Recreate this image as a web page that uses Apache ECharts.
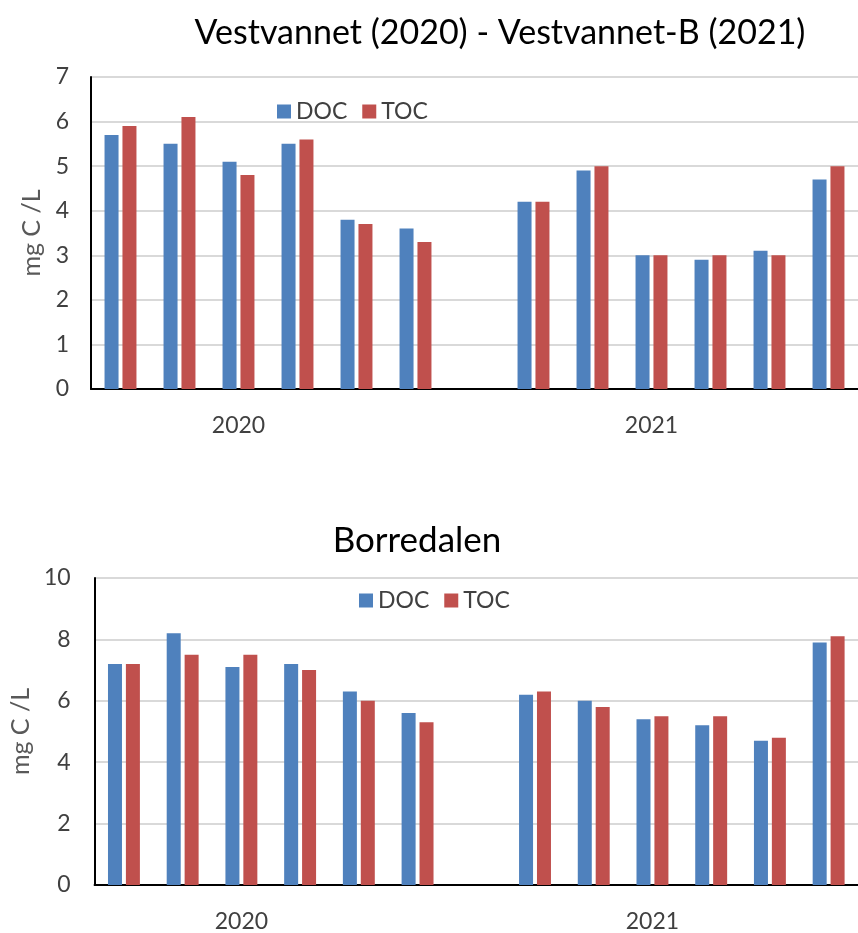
<!DOCTYPE html>
<html>
<head>
<meta charset="utf-8">
<script src="https://cdn.jsdelivr.net/npm/echarts@6/dist/echarts.min.js"></script>
<style>
  html, body { margin: 0; padding: 0; background: #fff; }
  #chart { width: 858px; height: 933px; }
</style>
</head>
<body>
<div id="chart"></div>
<script>
  // prøvetakinger, 6 i 2020, tom plass, 6 i 2021
  const slots = ['2020-1', '2020-2', '2020-3', '2020-4', '2020-5', '2020-6', 'gap',
                 '2021-1', '2021-2', '2021-3', '2021-4', '2021-5', '2021-6'];
  const yearLabels = { 2: '2020', 9: '2021' };

  // Vestvannet (2020) - Vestvannet-B (2021)
  const vestDOC = [5.7, 5.5, 5.1, 5.5, 3.8, 3.6, null, 4.2, 4.9, 3.0, 2.9, 3.1, 4.7];
  const vestTOC = [5.9, 6.1, 4.8, 5.6, 3.7, 3.3, null, 4.2, 5.0, 3.0, 3.0, 3.0, 5.0];

  // Borredalen
  const borrDOC = [7.2, 8.2, 7.1, 7.2, 6.3, 5.6, null, 6.2, 6.0, 5.4, 5.2, 4.7, 7.9];
  const borrTOC = [7.2, 7.5, 7.5, 7.0, 6.0, 5.3, null, 6.3, 5.8, 5.5, 5.5, 4.8, 8.1];

  const vestTicks = { min: 0, max: 7, interval: 1 };
  const borrTicks = { min: 0, max: 10, interval: 2 };

  const FONT = 'Lato';
  const blue = '#4F81BD';
  const red = '#C0504D';

  const chart = echarts.init(document.getElementById('chart'), null, { renderer: 'canvas' });

  const xAxisOf = (gridIndex) => ({
    gridIndex: gridIndex,
    type: 'category',
    data: slots,
    axisLine: { show: true, lineStyle: { color: '#000', width: 2 } },
    axisTick: { show: false },
    splitLine: { show: false },
    axisLabel: {
      interval: 0,
      margin: 25,
      fontFamily: FONT,
      fontSize: 23,
      color: '#404040',
      formatter: (v, i) => yearLabels[i] || ''
    }
  });

  const yAxisOf = (gridIndex, ticks, labelMargin, nameGap) => ({
    gridIndex: gridIndex,
    type: 'value',
    min: ticks.min,
    max: ticks.max,
    interval: ticks.interval,
    name: 'mg C /L',
    nameLocation: 'middle',
    nameRotate: 90,
    nameGap: nameGap,
    nameTextStyle: { fontFamily: FONT, fontSize: 25, color: '#595959' },
    axisLine: { show: true, lineStyle: { color: '#000', width: 2 } },
    axisTick: { show: false },
    splitLine: { show: true, lineStyle: { color: '#d9d9d9', width: 2 } },
    axisLabel: { margin: labelMargin, fontFamily: FONT, fontSize: 23, color: '#404040' }
  });

  const barOf = (name, data, color, idx) => ({
    name: name,
    type: 'bar',
    xAxisIndex: idx,
    yAxisIndex: idx,
    data: data,
    barWidth: 14,
    barGap: '28%',
    itemStyle: { color: color },
    emphasis: { disabled: true }
  });

  const legendOf = (left, top) => ({
    left: left,
    top: top,
    padding: 0,
    orient: 'horizontal',
    itemWidth: 14,
    itemHeight: 14,
    itemGap: 15,
    icon: 'rect',
    data: ['DOC', 'TOC'],
    textStyle: { fontFamily: FONT, fontSize: 23, color: '#404040' }
  });

  chart.setOption({
    backgroundColor: '#fff',
    animation: false,
    title: [
      {
        text: 'Vestvannet (2020) - Vestvannet-B (2021)',
        left: 495, top: 11, textAlign: 'center',
        textStyle: { fontFamily: FONT, fontSize: 34, fontWeight: 'normal', color: '#000' }
      },
      {
        text: 'Borredalen',
        left: 412, top: 518, textAlign: 'center',
        textStyle: { fontFamily: FONT, fontSize: 35, fontWeight: 'normal', color: '#000' }
      }
    ],
    legend: [legendOf(277, 100), legendOf(359, 589)],
    grid: [
      { left: 91, top: 77, width: 776, height: 312 },
      { left: 92, top: 578, width: 776, height: 310 }
    ],
    xAxis: [xAxisOf(0), xAxisOf(1)],
    yAxis: [yAxisOf(0, vestTicks, 22, 44), yAxisOf(1, borrTicks, 24, 58)],
    series: [
      barOf('DOC', vestDOC, blue, 0),
      barOf('TOC', vestTOC, red, 0),
      barOf('DOC', borrDOC, blue, 1),
      barOf('TOC', borrTOC, red, 1)
    ]
  });
</script>
</body>
</html>
